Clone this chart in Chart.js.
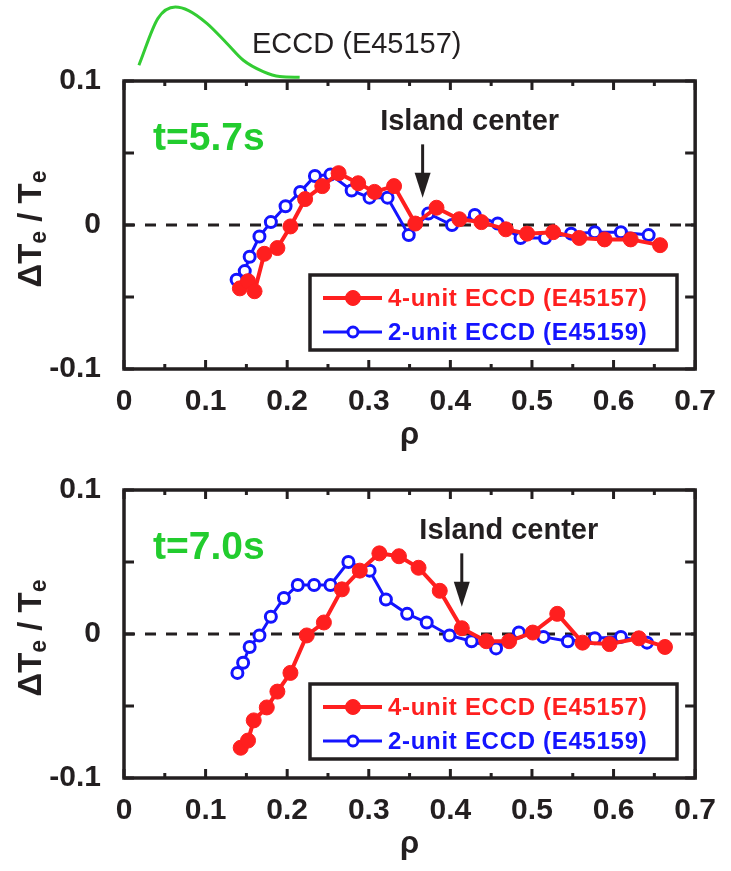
<!DOCTYPE html>
<html>
<head>
<meta charset="utf-8">
<title>ΔTe / Te profiles</title>
<script src="https://cdn.jsdelivr.net/npm/chart.js@4.4.1/dist/chart.umd.min.js"></script>
<style>
  html, body { margin: 0; padding: 0; background: #fff; }
  #wrap { position: relative; width: 731px; height: 871px; overflow: hidden; }
  canvas { position: absolute; left: 0; }
  #chart57 { top: 0; }
  #chart70 { top: 409px; }
  #eccdChart { top: 0; }
</style>
</head>
<body>
<div id="wrap">
  <canvas id="chart57" width="731" height="462"></canvas>
  <canvas id="chart70" width="731" height="462"></canvas>
  <canvas id="eccdChart" width="731" height="81"></canvas>
</div>
<script>
// 目盛ラベル
const rhoTicks = [0, 0.1, 0.2, 0.3, 0.4, 0.5, 0.6, 0.7];
const dteTicks = [-0.1, 0, 0.1];

// t=5.7s : 4-unit ECCD (E45157)
const rho4_57 = [0.142, 0.152, 0.160, 0.172, 0.188, 0.204, 0.222, 0.243, 0.263, 0.287, 0.307, 0.331,
                 0.357, 0.383, 0.411, 0.438, 0.468, 0.494, 0.526, 0.558, 0.589, 0.621, 0.657];
const dte4_57 = [-0.044, -0.039, -0.046, -0.020, -0.016, -0.001, 0.018, 0.027, 0.036, 0.029, 0.023, 0.027,
                 0.001, 0.012, 0.004, 0.002, -0.003, -0.006, -0.005, -0.009, -0.010, -0.010, -0.014];
// t=5.7s : 2-unit ECCD (E45159)
const rho2_57 = [0.138, 0.148, 0.154, 0.166, 0.180, 0.198, 0.216, 0.234, 0.253, 0.279, 0.301, 0.323,
                 0.349, 0.373, 0.402, 0.430, 0.458, 0.486, 0.516, 0.548, 0.577, 0.609, 0.643];
const dte2_57 = [-0.038, -0.032, -0.022, -0.008, 0.002, 0.013, 0.023, 0.034, 0.035, 0.024, 0.019, 0.019,
                 -0.007, 0.008, 0.000, 0.007, 0.001, -0.009, -0.009, -0.006, -0.005, -0.005, -0.007];

// t=7.0s : 4-unit ECCD (E45157)
const rho4_70 = [0.143, 0.152, 0.159, 0.175, 0.188, 0.204, 0.224, 0.245, 0.267, 0.289, 0.313, 0.337,
                 0.361, 0.387, 0.414, 0.444, 0.472, 0.501, 0.531, 0.562, 0.595, 0.631, 0.663];
const dte4_70 = [-0.079, -0.074, -0.060, -0.051, -0.040, -0.027, -0.001, 0.008, 0.031, 0.044, 0.056, 0.054,
                 0.046, 0.030, 0.004, -0.005, -0.005, 0.001, 0.014, -0.006, -0.007, -0.003, -0.009];
// t=7.0s : 2-unit ECCD (E45159)
const rho2_70 = [0.139, 0.146, 0.154, 0.166, 0.180, 0.196, 0.213, 0.233, 0.253, 0.275, 0.301, 0.321,
                 0.347, 0.371, 0.399, 0.426, 0.456, 0.484, 0.514, 0.544, 0.577, 0.609, 0.641];
const dte2_70 = [-0.027, -0.020, -0.009, -0.001, 0.012, 0.025, 0.034, 0.034, 0.034, 0.050, 0.044, 0.024,
                 0.014, 0.008, -0.001, -0.005, -0.010, 0.001, -0.002, -0.005, -0.003, -0.002, -0.006];

// ECCD 電流駆動分布（任意単位）
const eccdRho = [0.018, 0.041, 0.062, 0.078, 0.100, 0.124, 0.144, 0.168, 0.188, 0.212];
const eccdAmp = [0.18, 0.84, 1.00, 0.95, 0.77, 0.49, 0.25, 0.09, 0.02, 0.01];

// 磁気島中心の位置
const islandRho57 = 0.366;
const islandRho70 = 0.414;

const INK = '#231f20';
const RED = '#ff1f1f';
const BLUE = '#1414ff';
const GREEN = '#22cc2e';
const FONT = '"Liberation Sans", Arial, Helvetica, sans-serif';

const pts = (xs, ys) => xs.map((x, i) => ({ x, y: ys[i] }));

// 枠・内向き目盛・破線・注記・凡例を描くプラグイン
const panelDecor = {
    id: 'panelDecor',
    beforeDatasetsDraw(chart) {
        const { ctx, chartArea: a, scales: { y } } = chart;
        const y0 = y.getPixelForValue(0);
        ctx.save();
        ctx.strokeStyle = INK;
        ctx.lineWidth = 3;
        ctx.setLineDash([11, 10]);
        ctx.beginPath();
        ctx.moveTo(a.left, y0);
        ctx.lineTo(a.right, y0);
        ctx.stroke();
        ctx.restore();
    },
    afterDatasetsDraw(chart, args, opts) {
        const { ctx, chartArea: a, scales: { x, y } } = chart;
        ctx.save();

        // 枠
        ctx.strokeStyle = INK;
        ctx.lineWidth = 3.5;
        ctx.strokeRect(a.left, a.top, a.right - a.left, a.bottom - a.top);

        // 目盛（主目盛の間に副目盛）
        ctx.lineWidth = 3;
        ctx.beginPath();
        const xv = x.ticks.map(t => t.value);
        xv.forEach((v, i) => {
            const px = x.getPixelForValue(v);
            ctx.moveTo(px, a.bottom); ctx.lineTo(px, a.bottom - 9);
            ctx.moveTo(px, a.top); ctx.lineTo(px, a.top + 9);
            if (i < xv.length - 1) {
                const pm = x.getPixelForValue((v + xv[i + 1]) / 2);
                ctx.moveTo(pm, a.bottom); ctx.lineTo(pm, a.bottom - 5);
                ctx.moveTo(pm, a.top); ctx.lineTo(pm, a.top + 5);
            }
        });
        const yv = y.ticks.map(t => t.value);
        const yAll = [];
        yv.forEach((v, i) => {
            yAll.push(v);
            if (i < yv.length - 1) yAll.push((v + yv[i + 1]) / 2);
        });
        yAll.forEach(v => {
            const py = y.getPixelForValue(v);
            ctx.moveTo(a.left, py); ctx.lineTo(a.left + 10, py);
            ctx.moveTo(a.right, py); ctx.lineTo(a.right - 10, py);
        });
        ctx.stroke();

        // 時刻ラベル
        ctx.fillStyle = GREEN;
        ctx.font = `bold 39px ${FONT}`;
        ctx.textAlign = 'left';
        ctx.textBaseline = 'alphabetic';
        ctx.fillText(opts.time, a.left + 29, a.top + 69);

        // Island center の矢印
        const ax = x.getPixelForValue(opts.island);
        const aTop = y.getPixelForValue(0.056);
        const aTip = y.getPixelForValue(0.019);
        ctx.fillStyle = INK;
        ctx.strokeStyle = INK;
        ctx.lineWidth = 3;
        ctx.beginPath();
        ctx.moveTo(ax, aTop);
        ctx.lineTo(ax, aTip - 20);
        ctx.stroke();
        ctx.beginPath();
        ctx.moveTo(ax - 8, aTip - 25);
        ctx.lineTo(ax + 8, aTip - 25);
        ctx.lineTo(ax, aTip);
        ctx.closePath();
        ctx.fill();
        ctx.font = `bold 29px ${FONT}`;
        ctx.textAlign = 'center';
        ctx.fillText('Island center', ax + 47, a.top + 49);

        // ECCD 分布のラベル（上段のみ）
        if (opts.eccdText) {
            ctx.font = `29px ${FONT}`;
            ctx.textAlign = 'left';
            ctx.fillText(opts.eccdText, a.left + 128, a.top - 28);
        }

        // 縦軸タイトル ΔTe / Te（添字つき）
        const parts = [['ΔT', false], ['e', true], [' / T', false], ['e', true]];
        const big = `bold 33px ${FONT}`, small = `bold 23px ${FONT}`;
        let total = 0;
        parts.forEach(([s, sub]) => { ctx.font = sub ? small : big; total += ctx.measureText(s).width; });
        ctx.save();
        ctx.translate(41, (a.top + a.bottom) / 2 + 4);
        ctx.rotate(-Math.PI / 2);
        ctx.textAlign = 'left';
        let cx = -total / 2;
        parts.forEach(([s, sub]) => {
            ctx.font = sub ? small : big;
            ctx.fillText(s, cx, sub ? 5 : 0);
            cx += ctx.measureText(s).width;
        });
        ctx.restore();

        // 横軸タイトル
        ctx.font = `bold 31px ${FONT}`;
        ctx.textAlign = 'center';
        ctx.textBaseline = 'middle';
        ctx.fillText('ρ', (a.left + a.right) / 2, a.bottom + 66);

        // 凡例
        const lx = a.left + 186, ly = a.bottom - 94, lw = 367, lh = 75;
        ctx.fillStyle = '#fff';
        ctx.fillRect(lx, ly, lw, lh);
        ctx.strokeStyle = INK;
        ctx.lineWidth = 3.5;
        ctx.strokeRect(lx, ly, lw, lh);
        chart.data.datasets.forEach((ds, i) => {
            const ey = ly + 23 + i * 34;
            ctx.strokeStyle = ds.borderColor;
            ctx.lineWidth = ds.borderWidth;
            ctx.beginPath();
            ctx.moveTo(lx + 13, ey);
            ctx.lineTo(lx + 72, ey);
            ctx.stroke();
            ctx.beginPath();
            ctx.arc(lx + 43, ey, ds.legendRadius, 0, Math.PI * 2);
            ctx.fillStyle = ds.pointBackgroundColor;
            ctx.fill();
            ctx.lineWidth = ds.pointBorderWidth;
            ctx.strokeStyle = ds.pointBorderColor;
            ctx.stroke();
            ctx.fillStyle = ds.borderColor;
            ctx.font = `bold 24px ${FONT}`;
            ctx.letterSpacing = '0.7px';
            ctx.textAlign = 'left';
            ctx.textBaseline = 'middle';
            ctx.fillText(ds.label, lx + 78, ey + 1);
            ctx.letterSpacing = '0px';
        });

        ctx.restore();
    }
};

function makeDatasets(r4, d4, r2, d2) {
    return [
        {
            label: '4-unit ECCD (E45157)',
            data: pts(r4, d4),
            showLine: true,
            borderColor: RED,
            borderWidth: 4,
            pointRadius: 7.5,
            pointBackgroundColor: RED,
            pointBorderColor: RED,
            pointBorderWidth: 1,
            legendRadius: 7.5,
            order: 0
        },
        {
            label: '2-unit ECCD (E45159)',
            data: pts(r2, d2),
            showLine: true,
            borderColor: BLUE,
            borderWidth: 3,
            pointRadius: 5.5,
            pointBackgroundColor: '#fff',
            pointBorderColor: BLUE,
            pointBorderWidth: 3,
            legendRadius: 5,
            order: 1
        }
    ];
}

const tickFont = { family: FONT, size: 30, weight: 'bold' };

function panelOptions(decor) {
    return {
        responsive: false,
        animation: false,
        layout: { padding: { top: 81, right: 27, left: 0, bottom: 0 } },
        plugins: {
            legend: { display: false },
            tooltip: { enabled: false },
            panelDecor: decor
        },
        scales: {
            x: {
                type: 'linear',
                min: 0,
                max: 0.7,
                grid: { display: false, drawTicks: false },
                border: { display: false },
                afterBuildTicks: s => { s.ticks = rhoTicks.map(v => ({ value: v })); },
                afterFit: s => { s.height = 93; },
                ticks: {
                    autoSkip: false,
                    maxRotation: 0,
                    padding: 15,
                    color: INK,
                    font: tickFont,
                    callback: v => String(v)
                }
            },
            y: {
                type: 'linear',
                min: -0.1,
                max: 0.1,
                grid: { display: false, drawTicks: false },
                border: { display: false },
                afterBuildTicks: s => { s.ticks = dteTicks.map(v => ({ value: v })); },
                afterFit: s => { s.width = 124; },
                ticks: {
                    padding: 23,
                    color: INK,
                    font: tickFont,
                    callback: v => String(v)
                }
            }
        }
    };
}

new Chart(document.getElementById('chart57'), {
    type: 'scatter',
    data: { datasets: makeDatasets(rho4_57, dte4_57, rho2_57, dte2_57) },
    options: panelOptions({ time: 't=5.7s', island: islandRho57, eccdText: 'ECCD (E45157)' }),
    plugins: [panelDecor]
});

new Chart(document.getElementById('chart70'), {
    type: 'scatter',
    data: { datasets: makeDatasets(rho4_70, dte4_70, rho2_70, dte2_70) },
    options: panelOptions({ time: 't=7.0s', island: islandRho70 }),
    plugins: [panelDecor]
});

// 上段の上に ECCD 分布を描く
new Chart(document.getElementById('eccdChart'), {
    type: 'scatter',
    data: {
        datasets: [{
            data: pts(eccdRho, eccdAmp),
            showLine: true,
            borderColor: '#33cc33',
            borderWidth: 3,
            pointRadius: 0,
            cubicInterpolationMode: 'monotone',
            clip: false
        }]
    },
    options: {
        responsive: false,
        animation: false,
        layout: { padding: { left: 124, right: 27, top: 7, bottom: 3 } },
        plugins: { legend: { display: false }, tooltip: { enabled: false } },
        scales: {
            x: { type: 'linear', display: false, min: 0, max: 0.7 },
            y: { type: 'linear', display: false, min: 0, max: 1 }
        }
    }
});
</script>
</body>
</html>
